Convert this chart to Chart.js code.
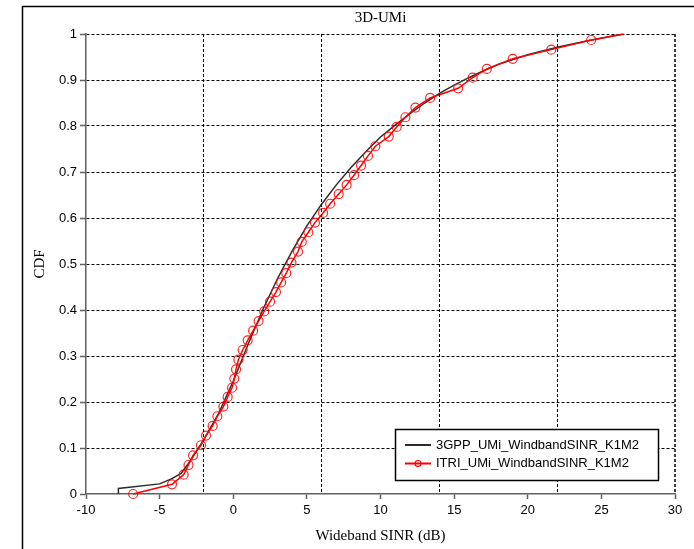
<!DOCTYPE html>
<html>
<head>
<meta charset="utf-8">
<title>3D-UMi</title>
<script src="https://cdn.jsdelivr.net/npm/chart.js@4.4.0/dist/chart.umd.min.js"></script>
<style>
  html, body { margin: 0; padding: 0; background: #fff; overflow: hidden; }
  canvas { display: block; }
</style>
</head>
<body>
<canvas id="cdfChart" width="694" height="549"></canvas>
<script>
// 3GPP reference curve
const gppSinr = [-7.8, -7.8, -5.0, -4.2, -3.54, -3.0, -2.0, -1.0, 0, 1, 2, 3, 4, 5, 6, 7, 8, 9, 10, 11, 12, 13, 14, 15, 16, 17, 18, 20, 22, 24, 26.5];
const gppCdf = [0, 0.012, 0.022, 0.033, 0.045, 0.068, 0.118, 0.175, 0.245, 0.325, 0.40, 0.468, 0.528, 0.583, 0.63, 0.672, 0.71, 0.744, 0.776, 0.802, 0.827, 0.85, 0.871, 0.889, 0.905, 0.92, 0.934, 0.955, 0.971, 0.985, 1.0];

// ITRI simulation curve
const itriSinr = [-6.8, -4.16, -3.37, -3.04, -2.73, -2.19, -1.85, -1.40, -1.08, -0.67, -0.38, -0.08, 0.07, 0.19, 0.35, 0.64, 0.98, 1.35, 1.72, 2.1, 2.5, 2.9, 3.25, 3.6, 3.95, 4.4, 4.65, 5.1, 5.55, 6.1, 6.58, 7.16, 7.7, 8.2, 8.68, 9.15, 9.65, 10.56, 11.1, 11.69, 12.37, 13.37, 15.27, 16.26, 17.22, 18.98, 21.59, 24.31, 26.5];
const itriCdf = [0, 0.021, 0.042, 0.063, 0.084, 0.106, 0.127, 0.148, 0.169, 0.19, 0.211, 0.231, 0.251, 0.271, 0.292, 0.313, 0.334, 0.355, 0.376, 0.397, 0.418, 0.439, 0.46, 0.48, 0.503, 0.527, 0.548, 0.569, 0.59, 0.611, 0.631, 0.652, 0.672, 0.693, 0.714, 0.735, 0.756, 0.777, 0.798, 0.819, 0.84, 0.861, 0.882, 0.905, 0.924, 0.946, 0.966, 0.987, 1.0];

const seriesNames = ['3GPP_UMi_WindbandSINR_K1M2', 'ITRI_UMi_WindbandSINR_K1M2'];
// vertical grid lines sit every 8 dB, independent of the 5 dB labels
const gridSinr = [-2, 6, 14, 22, 30];
const chartTitle = '3D-UMi';
const xTitle = 'Wideband SINR (dB)';
const yTitle = 'CDF';

const axisGray = '#606060';
const tickFont = {family: 'Liberation Sans', size: 13};
const titleFont = {family: 'Liberation Serif', size: 15};

function toPoints(xs, ys) {
  return xs.map((x, i) => ({x: x, y: ys[i]}));
}

// white page, panel frame and the chart heading
const framePlugin = {
  id: 'frame',
  beforeDraw(chart) {
    const ctx = chart.ctx;
    const area = chart.chartArea;
    ctx.save();
    ctx.fillStyle = '#fff';
    ctx.fillRect(0, 0, chart.width, chart.height);
    ctx.strokeStyle = '#000';
    ctx.lineWidth = 1.5;
    ctx.beginPath();
    ctx.moveTo(22.5, chart.height);
    ctx.lineTo(22.5, 6.5);
    ctx.lineTo(chart.width, 6.5);
    ctx.stroke();
    ctx.fillStyle = '#000';
    ctx.font = '15px "Liberation Serif"';
    ctx.textAlign = 'center';
    ctx.textBaseline = 'middle';
    ctx.fillText(chartTitle, (area.left + area.right) / 2, 18);
    ctx.restore();
  }
};

// dashed vertical grid placed through the x scale; the closing line at 30 dB is a bit heavier
const vGridPlugin = {
  id: 'vGrid',
  afterDatasetsDraw(chart) {
    const ctx = chart.ctx;
    const xs = chart.scales.x;
    const area = chart.chartArea;
    ctx.save();
    ctx.strokeStyle = '#000';
    ctx.setLineDash([3, 2]);
    gridSinr.forEach((v, i) => {
      const last = i === gridSinr.length - 1;
      const px = last ? xs.getPixelForValue(v) : Math.round(xs.getPixelForValue(v) - 0.5) + 0.5;
      ctx.lineWidth = last ? 1.5 : 1;
      ctx.beginPath();
      ctx.moveTo(px, area.top);
      ctx.lineTo(px, area.bottom);
      ctx.stroke();
    });
    ctx.restore();
  }
};

// boxed legend in the lower right of the plot
const legendBox = {
  id: 'legendBox',
  afterDraw(chart) {
    const ctx = chart.ctx;
    const x0 = 395.5, y0 = 429.5, w = 263, h = 51;
    ctx.save();
    ctx.fillStyle = '#fff';
    ctx.fillRect(x0, y0, w, h);
    ctx.strokeStyle = '#000';
    ctx.lineWidth = 1.5;
    ctx.strokeRect(x0, y0, w, h);
    ctx.font = '13px "Liberation Sans"';
    ctx.textBaseline = 'middle';
    ctx.textAlign = 'left';
    chart.data.datasets.forEach((ds, i) => {
      const y = 445 + i * 18.5;
      ctx.strokeStyle = ds.borderColor;
      ctx.lineWidth = 2;
      ctx.beginPath();
      ctx.moveTo(405, y);
      ctx.lineTo(431, y);
      ctx.stroke();
      if (ds.pointRadius) {
        ctx.lineWidth = 1.2;
        ctx.beginPath();
        ctx.arc(418, y, 3, 0, Math.PI * 2);
        ctx.stroke();
      }
      ctx.fillStyle = '#000';
      ctx.fillText(ds.label, 436, y);
    });
    ctx.restore();
  }
};

const data = {
  datasets: [{
    label: seriesNames[0],
    data: toPoints(gppSinr, gppCdf),
    borderColor: '#2b2b2b',
    borderWidth: 1.5,
    pointRadius: 0,
    tension: 0,
    order: 1
  }, {
    label: seriesNames[1],
    data: toPoints(itriSinr, itriCdf),
    borderColor: '#ff0000',
    borderWidth: 1.5,
    pointRadius: ctx => ctx.dataIndex === itriSinr.length - 1 ? 0 : 4.5,
    pointBorderColor: 'rgba(255,0,0,0.85)',
    pointBackgroundColor: 'transparent',
    pointBorderWidth: 1.2,
    tension: 0,
    clip: false,
    order: 0
  }]
};

const config = {
  type: 'line',
  data: data,
  options: {
    responsive: false,
    animation: false,
    devicePixelRatio: 1,
    layout: {
      padding: {top: 34, right: 19, bottom: 0, left: 0}
    },
    plugins: {
      legend: {display: false},
      tooltip: {enabled: false},
      title: {display: false}
    },
    scales: {
      x: {
        type: 'linear',
        position: 'bottom',
        min: -10,
        max: 30,
        ticks: {
          stepSize: 5,
          color: '#000',
          font: tickFont,
          padding: 4,
          maxRotation: 0,
          callback: v => String(v)
        },
        grid: {
          drawOnChartArea: false,
          drawTicks: true,
          tickLength: 5,
          tickColor: axisGray,
          tickWidth: 1.5
        },
        border: {color: axisGray, width: 1.5},
        title: {
          display: true,
          text: xTitle,
          color: '#000',
          font: titleFont,
          padding: {top: 0, bottom: 4}
        },
        afterFit(scale) { scale.height = 55; }
      },
      y: {
        type: 'linear',
        min: 0,
        max: 1,
        ticks: {
          stepSize: 0.1,
          color: '#000',
          font: tickFont,
          padding: 3,
          callback: v => String(Math.round(v * 10) / 10)
        },
        grid: {
          color: ctx => ctx.tick && ctx.tick.value === 0 ? 'transparent' : '#000',
          lineWidth: 1,
          tickColor: axisGray,
          tickLength: 6,
          tickWidth: 1.5
        },
        border: {color: axisGray, width: 1.5, dash: [3, 2]},
        title: {
          display: true,
          text: yTitle,
          color: '#000',
          font: titleFont,
          padding: {top: 31, bottom: 0}
        },
        afterFit(scale) { scale.width = 86; }
      }
    }
  },
  plugins: [framePlugin, vGridPlugin, legendBox]
};

const cdfChart = new Chart(document.getElementById('cdfChart').getContext('2d'), config);
</script>
</body>
</html>
